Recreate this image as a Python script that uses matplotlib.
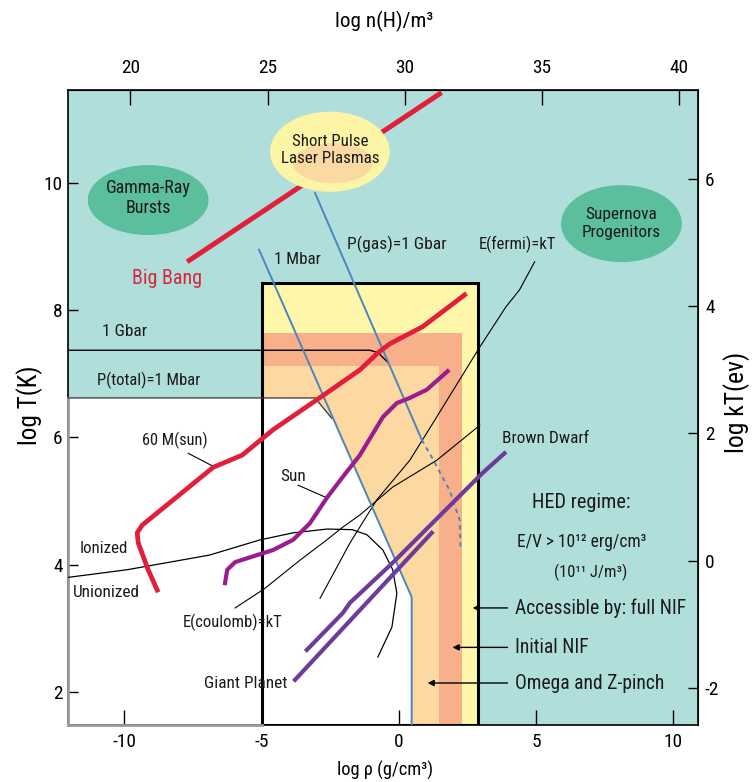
import os
import matplotlib
matplotlib.use("Agg")
import matplotlib.pyplot as plt
from matplotlib.patches import Ellipse, Rectangle, Polygon
from matplotlib import font_manager

# ---------- choose a condensed sans font if one is installed ----------
def _weight(f):
    w = f.weight
    if isinstance(w, int):
        return w
    return {'normal': 400, 'regular': 400, 'book': 400}.get(str(w).lower(), 0)

def pick_condensed():
    ranks = ['liberation sans narrow', 'arial narrow', 'roboto condensed', 'noto sans', 'open sans', 'dejavu sans']
    best, best_rank = None, 99
    for f in font_manager.fontManager.ttflist:
        name = f.name.lower()
        fn = os.path.basename(f.fname).lower()
        st = str(f.stretch).lower()
        cond = ('narrow' in name or 'condensed' in name or 'condensed' in st
                or 'narrow' in fn or 'condensed' in fn)
        if not cond or f.style != 'normal' or _weight(f) != 400:
            continue
        if 'mono' in name or 'cjk' in name or 'serif' in name or 'extra' in fn or 'ultra' in fn or 'semi' in fn:
            continue
        r = 50
        for i, key in enumerate(ranks):
            if name.startswith(key):
                r = i
                break
        if r < best_rank:
            best, best_rank = f, r
    return best

cf = pick_condensed()
if cf is not None:
    plt.rcParams['font.family'] = [cf.name, 'Liberation Sans', 'DejaVu Sans']
    plt.rcParams['font.stretch'] = cf.stretch if str(cf.stretch) != 'normal' else 'normal'
else:
    plt.rcParams['font.family'] = ['Liberation Sans', 'DejaVu Sans']
plt.rcParams['axes.unicode_minus'] = False

# ---------------- data (log rho [g/cm^3], log T [K]) ----------------
xlim = (-12.05, 10.9)
ylim = (1.48, 11.46)
xticks = [-10, -5, 0, 5, 10]
yticks = [2, 4, 6, 8, 10]
top_ticks = [20, 25, 30, 35, 40]
right_ticks = [-2, 0, 2, 4, 6]
NH_OFFSET = 29.78      # log n(H)/m^3 = log rho + 29.78
EV_OFFSET = 4.065      # log kT(eV) = log T - 4.065

bigbang_rho = [-7.71, 1.56]
bigbang_T = [8.76, 11.42]

m60_rho = [-8.80, -9.13, -9.49, -9.53, -9.35, -6.76, -5.71, -4.58, -2.62, -1.42, -0.76, -0.33, 0.87, 2.40]
m60_T = [3.60, 3.92, 4.34, 4.50, 4.62, 5.53, 5.72, 6.12, 6.70, 7.06, 7.33, 7.47, 7.74, 8.24]

sun_rho = [-6.33, -6.25, -5.96, -5.53, -4.58, -3.85, -3.24, -2.62, -2.04, -1.42, -0.58, -0.07, 0.40, 1.02, 1.78]
sun_T = [3.71, 3.92, 4.04, 4.10, 4.23, 4.39, 4.65, 5.05, 5.38, 5.72, 6.32, 6.54, 6.62, 6.75, 7.04]

brown_rho = [-3.35, -2.04, -1.78, -0.22, 3.05, 3.85]
brown_T = [2.66, 3.24, 3.40, 4.03, 5.44, 5.75]

giant_rho = [-3.78, 1.20]
giant_T = [2.19, 4.50]

ion_rho = [-12.05, -9.9, -6.9, -5.05, -3.85, -2.6, -1.7, -1.16, -0.58, -0.22, -0.07, -0.25, -0.76]
ion_T = [3.80, 3.92, 4.15, 4.39, 4.50, 4.56, 4.55, 4.47, 4.23, 3.92, 3.55, 3.02, 2.55]

coulomb_rho = [-5.96, -4.9, -3.6, -2.62, -2.04, -1.42, -0.22, 1.38, 2.95]
coulomb_T = [3.32, 3.62, 4.07, 4.39, 4.59, 4.78, 5.22, 5.64, 6.19]

fermi_rho = [-2.87, -1.78, -0.80, 0.40, 1.38, 2.95, 3.9, 4.40, 4.95]
fermi_T = [3.47, 4.34, 5.02, 5.64, 6.32, 7.42, 8.05, 8.32, 8.76]

mbar_rho = [-5.09, 0.47, 0.47]
mbar_T = [8.95, 3.49, 1.48]

pgas_rho = [-3.05, 0.84]
pgas_T = [9.84, 5.96]
pgas_dash_rho = [0.84, 1.2, 1.85, 2.22, 2.25]
pgas_dash_T = [5.96, 5.69, 5.17, 4.70, 4.23]

gbar_rho = [-12.05, -1.05, -0.75, -0.4]
gbar_T = [7.37, 7.37, 7.33, 7.18]

ptotal_rho = [-12.05, -3.05, -2.44]
ptotal_T = [6.62, 6.62, 6.30]

# regime box (x0, x1, top) and inner regimes (right edge, top)
box = (-5.0, 2.9, 8.43)
initial_nif = (2.29, 7.64)
omega = (1.45, 7.12)

# ---------------- colours ----------------
TEAL = '#b0dedb'
GREEN = '#5bbf9d'
YELLOW = '#fef6a9'
SALMON = '#f8b08a'
LORANGE = '#fdd8a0'
RED = '#e21f3b'
SUNPURPLE = '#9b1c8c'
DPURPLE = '#6b3c9c'
BLUE = '#4b86bf'

fig = plt.figure(figsize=(7.54, 7.82), dpi=100)
R = fig.canvas.get_renderer()

def fit(s, target_px):
    t = fig.text(0, 0, s, fontsize=10)
    w = t.get_window_extent(R).width
    t.remove()
    return 10.0 * target_px / w

TICK = fit('30', 19)

ax = fig.add_axes([68/754, 1-725/782, 630/754, 635/782])
ax.set_facecolor(TEAL)
ax.set_xlim(*xlim)
ax.set_ylim(*ylim)

# regions
ax.add_patch(Rectangle((box[0], ylim[0]), box[1]-box[0], box[2]-ylim[0], facecolor=YELLOW, edgecolor='none', zorder=1))
ax.add_patch(Rectangle((box[0], ylim[0]), initial_nif[0]-box[0], initial_nif[1]-ylim[0], facecolor=SALMON, edgecolor='none', zorder=1.1))
ax.add_patch(Rectangle((box[0], ylim[0]), omega[0]-box[0], omega[1]-ylim[0], facecolor=LORANGE, edgecolor='none', zorder=1.2))
white = Polygon([(xlim[0], ylim[0]), (xlim[0], ptotal_T[0]), (ptotal_rho[1], ptotal_T[1]), (ptotal_rho[2], ptotal_T[2]),
                 (mbar_rho[1], mbar_T[1]), (mbar_rho[2], mbar_T[2])], closed=True, facecolor='white', edgecolor='none', zorder=1.3)
ax.add_patch(white)
ax.add_patch(Rectangle((box[0], ylim[0]), box[1]-box[0], box[2]-ylim[0], facecolor='none', edgecolor='black', lw=2.2, zorder=3))
ax.plot([xlim[0], xlim[0]], [ylim[0], ptotal_T[0]], color='#9a9a9a', lw=2.0, zorder=3.5, clip_on=False)
ax.plot([xlim[0], box[0]], [ylim[0], ylim[0]], color='#9a9a9a', lw=2.0, zorder=3.5, clip_on=False)

# thin black lines
ax.plot(ion_rho, ion_T, color='black', lw=0.9, zorder=4)
ax.plot(coulomb_rho, coulomb_T, color='black', lw=0.8, zorder=4)
ax.plot(fermi_rho, fermi_T, color='black', lw=0.8, zorder=4)
ax.plot(gbar_rho, gbar_T, color='black', lw=1.0, zorder=4)
ax.plot(ptotal_rho, ptotal_T, color='#333333', lw=0.9, zorder=4)

# blue pressure lines
ax.plot(mbar_rho, mbar_T, color=BLUE, lw=1.4, zorder=4.5)
ax.plot(pgas_rho, pgas_T, color=BLUE, lw=1.4, zorder=4.5)
ax.plot(pgas_dash_rho, pgas_dash_T, color=BLUE, lw=1.4, dashes=(2.2, 2.2), zorder=4.5)

# thick trajectories
ax.plot(bigbang_rho, bigbang_T, color=RED, lw=3.6, zorder=5, solid_capstyle='butt')
ax.plot(m60_rho, m60_T, color=RED, lw=3.4, zorder=5, solid_joinstyle='round')
ax.plot(sun_rho, sun_T, color=SUNPURPLE, lw=3.0, zorder=5, solid_joinstyle='round')
ax.plot(brown_rho, brown_T, color=DPURPLE, lw=3.0, zorder=5)
ax.plot(giant_rho, giant_T, color=DPURPLE, lw=3.0, zorder=5)

# pointer lines
ax.plot([-7.67, -6.69], [5.75, 5.53], color='black', lw=0.8, zorder=4)
ax.plot([-3.67, -2.62], [5.25, 5.05], color='black', lw=0.8, zorder=4)

# ellipses
ax.add_patch(Ellipse((-9.13, 9.73), 4.4, 1.10, facecolor=GREEN, edgecolor='none', zorder=6))
ax.add_patch(Ellipse((8.11, 9.36), 4.4, 1.21, facecolor=GREEN, edgecolor='none', zorder=6))
ax.add_patch(Ellipse((-2.51, 10.49), 4.36, 1.26, facecolor='#fdf5a6', edgecolor='none', zorder=6))
ax.add_patch(Ellipse((-2.40, 10.31), 2.9, 0.63, facecolor='#fbd9a2', edgecolor='none', zorder=6.1))

def T(x, y, s, width_px, fitstr=None, ha='center', va='center', color='#1a1a1a', **kw):
    size = fit(fitstr or s, width_px)
    ax.text(x, y, s, fontsize=size, ha=ha, va=va, color=color, zorder=8, **kw)

T(-9.13, 9.76, 'Gamma-Ray\nBursts', 85, 'Gamma-Ray', linespacing=1.15)
T(-2.51, 10.52, 'Short Pulse\nLaser Plasmas', 98, 'Laser Plasmas', linespacing=1.15)
T(8.11, 9.36, 'Supernova\nProgenitors', 79, 'Progenitors', linespacing=1.2)
T(-8.44, 8.49, 'Big Bang', 70, color='#d8263f')
T(-3.71, 8.79, '1 Mbar', 47)
T(-0.07, 9.03, 'P(gas)=1 Gbar', 99)
T(4.33, 9.03, 'E(fermi)=kT', 77)
T(-10.0, 7.66, '1 Gbar', 45)
T(-9.13, 6.90, 'P(total)=1 Mbar', 103)
T(-8.15, 5.96, '60 M(sun)', 66)
T(-3.85, 5.38, 'Sun', 26)
T(-10.73, 4.26, 'Ionized', 48)
T(-10.65, 3.57, 'Unionized', 67)
T(-6.04, 3.10, 'E(coulomb)=kT', 100)
T(-5.56, 2.14, 'Giant Planet', 83)
T(5.35, 5.99, 'Brown Dwarf', 87)
T(6.65, 4.97, 'HED regime:', 98)
T(6.65, 4.36, 'E/V > 10¹² erg/cm³', 129)
T(6.98, 3.88, '(10¹¹ J/m³)', 73)

ARROW_SIZE = fit('Accessible by: full NIF', 170)
arrow_targets = [2.69, 1.96, 1.05]
arrow_labels = ['Accessible by: full NIF', 'Initial NIF', 'Omega and Z-pinch']
arrow_y = [3.32, 2.70, 2.14]
for tx, lab, yy in zip(arrow_targets, arrow_labels, arrow_y):
    ax.text(4.22, yy, lab, fontsize=ARROW_SIZE, ha='left', va='center', color='#1a1a1a', zorder=8)
    ax.annotate('', xy=(tx, yy), xytext=(3.96, yy),
                arrowprops=dict(arrowstyle='-|>', color='black', lw=1.0, mutation_scale=9, shrinkA=0, shrinkB=0),
                zorder=8)

# axes, ticks
for sp in ax.spines.values():
    sp.set_linewidth(1.2)
    sp.set_zorder(3.4)
ax.set_xticks(xticks)
ax.set_yticks(yticks)
ax.tick_params(axis='x', direction='in', length=11, width=1.0, labelsize=TICK, pad=6, bottom=True, top=False)
ax.tick_params(axis='y', direction='in', length=7, width=1.0, labelsize=TICK, pad=4, left=True, right=False)

secx = ax.secondary_xaxis('top', functions=(lambda x: x + NH_OFFSET, lambda n: n - NH_OFFSET))
secx.set_xticks(top_ticks)
secx.tick_params(direction='in', length=11, width=1.0, labelsize=TICK, pad=9)

secy = ax.secondary_yaxis('right', functions=(lambda t: t - EV_OFFSET, lambda e: e + EV_OFFSET))
secy.set_yticks(right_ticks)
secy.tick_params(direction='in', length=7, width=1.0, labelsize=TICK, pad=5)

fig.text(384/754, 1-21/782, 'log n(H)/m³', fontsize=fit('log n(H)/m³', 98), ha='center', va='center')
fig.text(30/754, 1-405/782, 'log T(K)', fontsize=fit('log T(K)', 80), rotation=90, ha='center', va='center')
fig.text(737/754, 1-402/782, 'log kT(ev)', fontsize=fit('log kT(ev)', 101), rotation=90, ha='center', va='center')
fig.text(385/754, 1-780/782, 'log ρ (g/cm³)', fontsize=fit('log ρ (g/cm³)', 96), ha='center', va='bottom')

fig.savefig('out.png', dpi=100)
